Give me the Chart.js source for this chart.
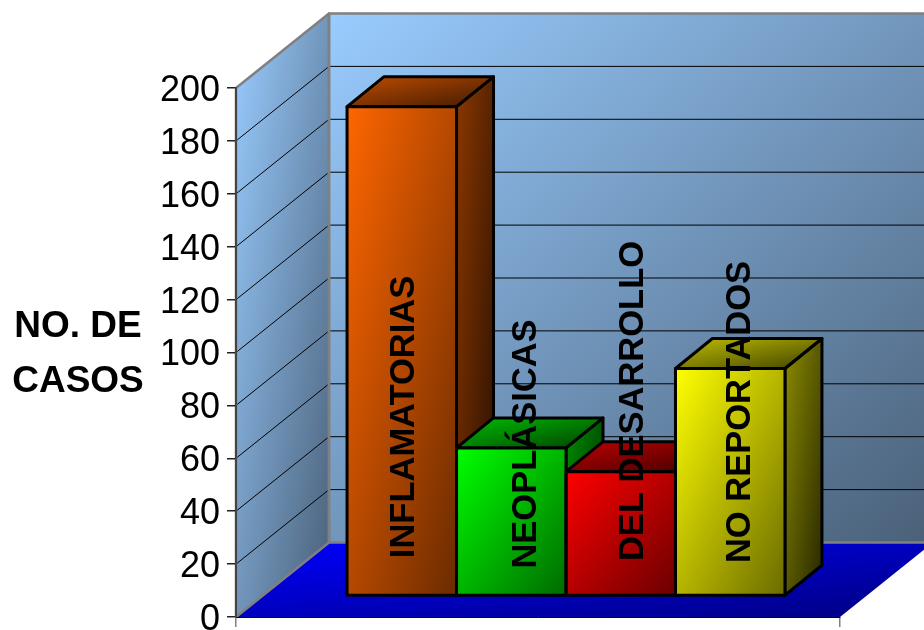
<!DOCTYPE html>
<html>
<head>
<meta charset="utf-8">
<title>Casos</title>
<script src="https://cdn.jsdelivr.net/npm/chart.js@4"></script>
<style>
    html, body { margin: 0; padding: 0; background: #fff; overflow: hidden; }
    canvas { display: block; }
</style>
</head>
<body>
<canvas id="chartCasos" width="924" height="630"></canvas>
<script>
// Data
const seriesNames = ['INFLAMATORIAS', 'NEOPLÁSICAS', 'DEL DESARROLLO', 'NO REPORTADOS'];
const seriesValues = [185, 56, 47, 86];
const yMax = 200;
const yStep = 20;
const axisTitleLines = ['NO. DE', 'CASOS'];

// Base colour of each bar, shaded per face
const barColors = [[255, 102, 0], [0, 255, 0], [255, 0, 0], [255, 255, 0]];

// Centre of each rotated label
const labelCenters = [[404, 417], [526, 444], [633, 401], [740, 412]];

// Depth of the box and of the bars
const WALL_DX = 93, WALL_DY = 74.5;
const BAR_DX = 28, BAR_DY = 21;
const DEPTH_DX = 37, DEPTH_DY = 30;
const FONT = '"Liberation Sans", Arial, sans-serif';

function shade(rgb, k) {
    return 'rgb(' + rgb.map(c => Math.round(c * k)).join(',') + ')';
}

// Corner to corner gradient over a box
function boxGradient(ctx, x, y, w, h, from, to) {
    const a = 0.5 / w, b = 0.5 / h, n = a * a + b * b;
    const g = ctx.createLinearGradient(x, y, x + a / n, y + b / n);
    g.addColorStop(0, from);
    g.addColorStop(1, to);
    return g;
}

function fillPoly(ctx, pts, fill) {
    ctx.beginPath();
    pts.forEach((p, i) => i ? ctx.lineTo(p[0], p[1]) : ctx.moveTo(p[0], p[1]));
    ctx.closePath();
    ctx.fillStyle = fill;
    ctx.fill();
}

function strokePoly(ctx, pts, color, width) {
    ctx.beginPath();
    pts.forEach((p, i) => i ? ctx.lineTo(p[0], p[1]) : ctx.moveTo(p[0], p[1]));
    ctx.closePath();
    ctx.strokeStyle = color;
    ctx.lineWidth = width;
    ctx.lineJoin = 'round';
    ctx.stroke();
}

const box3d = {
    id: 'box3d',

    // Walls, floor and their grid lines
    beforeDraw(chart) {
        const { ctx, chartArea: a, scales: { y } } = chart;
        const bx = a.left + WALL_DX, tb = a.top - WALL_DY, bb = a.bottom - WALL_DY;
        const light = '#99ccff', dark = '#4a6078';

        ctx.save();
        const floor = [[a.left, a.bottom], [bx, bb], [a.right + WALL_DX, bb], [a.right, a.bottom]];
        fillPoly(ctx, floor, boxGradient(ctx, a.left, bb, a.width + WALL_DX, WALL_DY, '#0000ff', '#000080'));

        const back = [[bx, tb], [a.right + WALL_DX, tb], [a.right + WALL_DX, bb], [bx, bb]];
        fillPoly(ctx, back, boxGradient(ctx, bx, tb, a.width, bb - tb, light, dark));

        const left = [[a.left, a.top], [bx, tb], [bx, bb], [a.left, a.bottom]];
        fillPoly(ctx, left, boxGradient(ctx, a.left, tb, WALL_DX, a.bottom - tb, light, dark));

        ctx.strokeStyle = '#000';
        ctx.lineWidth = 1;
        y.getTicks().forEach(t => {
            if (t.value === 0 || t.value === yMax) return;
            const py = y.getPixelForValue(t.value);
            ctx.beginPath();
            ctx.moveTo(a.left, py);
            ctx.lineTo(bx, py - WALL_DY);
            ctx.lineTo(a.right + WALL_DX, py - WALL_DY);
            ctx.stroke();
        });

        strokePoly(ctx, back, '#808080', 2.5);
        strokePoly(ctx, left, '#808080', 2.5);
        ctx.restore();
    },

    // Side and top faces, then move the fronts back into the box
    beforeDatasetsDraw(chart) {
        const { ctx } = chart;
        ctx.save();
        ctx.translate(BAR_DX, -BAR_DY);

        seriesNames.forEach((name, i) => {
            const el = chart.getDatasetMeta(i).data[0];
            const rgb = barColors[i];
            const xl = el.x - el.width / 2, xr = el.x + el.width / 2;
            const top = el.y, base = el.base;

            el.options = Object.assign({}, el.options, {
                backgroundColor: boxGradient(ctx, xl, top, xr - xl, base - top, shade(rgb, 1), shade(rgb, 0.42))
            });

            const side = [[xr, top], [xr + DEPTH_DX, top - DEPTH_DY], [xr + DEPTH_DX, base - DEPTH_DY], [xr, base]];
            fillPoly(ctx, side, boxGradient(ctx, xr, top - DEPTH_DY, DEPTH_DX, base - top + DEPTH_DY, shade(rgb, 0.55), shade(rgb, 0.15)));
            strokePoly(ctx, side, '#000', 3);

            const cap = [[xl, top], [xl + DEPTH_DX, top - DEPTH_DY], [xr + DEPTH_DX, top - DEPTH_DY], [xr, top]];
            fillPoly(ctx, cap, boxGradient(ctx, xl, top - DEPTH_DY, xr - xl + DEPTH_DX, DEPTH_DY, shade(rgb, 0.75), shade(rgb, 0.25)));
            strokePoly(ctx, cap, '#000', 3);
        });
    },

    afterDatasetsDraw(chart) {
        const { ctx } = chart;
        seriesNames.forEach((name, i) => {
            const el = chart.getDatasetMeta(i).data[0];
            ctx.lineWidth = 3;
            ctx.strokeStyle = '#000';
            ctx.strokeRect(el.x - el.width / 2, el.y, el.width, el.base - el.y);
        });
        ctx.restore();
    },

    // Rotated series labels and the axis title
    afterDraw(chart) {
        const { ctx } = chart;
        ctx.save();
        ctx.fillStyle = '#000';
        ctx.textAlign = 'center';
        ctx.textBaseline = 'middle';

        ctx.font = 'bold 37px ' + FONT;
        axisTitleLines.forEach((line, i) => ctx.fillText(line, 78, 327 + i * 55));

        ctx.font = 'bold 34.5px ' + FONT;
        seriesNames.forEach((name, i) => {
            ctx.save();
            ctx.translate(labelCenters[i][0], labelCenters[i][1]);
            ctx.rotate(-Math.PI / 2);
            ctx.fillText(name, 0, 0);
            ctx.restore();
        });
        ctx.restore();
    }
};

new Chart(document.getElementById('chartCasos'), {
    type: 'bar',
    plugins: [box3d],
    data: {
        labels: [''],
        datasets: seriesNames.map((name, i) => ({
            label: name,
            data: [seriesValues[i]],
            backgroundColor: shade(barColors[i], 1),
            borderWidth: 0
        }))
    },
    options: {
        responsive: false,
        animation: false,
        layout: {
            autoPadding: false,
            padding: { top: 88, right: 84, bottom: 0, left: 0 }
        },
        datasets: {
            bar: { categoryPercentage: 0.725, barPercentage: 1, clip: false }
        },
        plugins: {
            legend: { display: false },
            title: { display: false },
            tooltip: { enabled: false }
        },
        scales: {
            x: {
                afterFit: scale => { scale.height = 13; },
                ticks: { display: false },
                border: { color: '#000', width: 1 },
                grid: { drawOnChartArea: false, color: '#808080', tickLength: 10, lineWidth: 1.5 }
            },
            y: {
                min: 0,
                max: yMax,
                afterFit: scale => {
                    scale.width = 236;
                    // the bottom tick label may run off the canvas
                    scale.paddingTop = 0;
                    scale.paddingBottom = 0;
                },
                ticks: {
                    stepSize: yStep,
                    color: '#000',
                    padding: 7,
                    labelOffset: 3,
                    font: { family: FONT, size: 36 }
                },
                border: { color: '#444', width: 2 },
                grid: { drawOnChartArea: false, color: '#222', tickLength: 9, lineWidth: 1.5 }
            }
        }
    }
});
</script>
</body>
</html>
